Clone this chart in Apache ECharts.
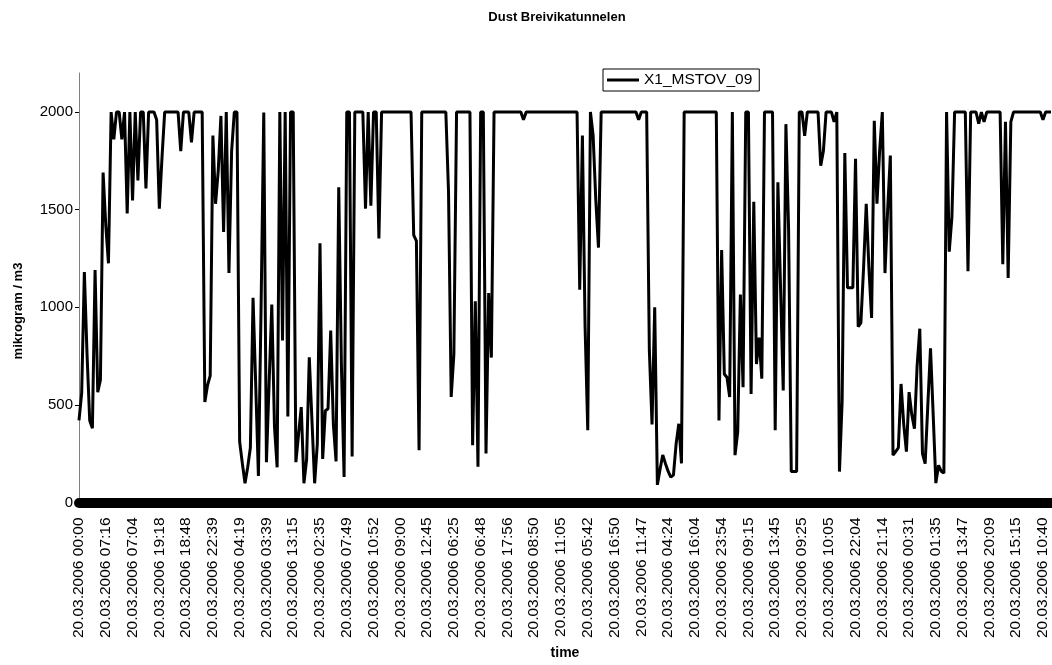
<!DOCTYPE html>
<html>
<head>
<meta charset="utf-8">
<title>Dust Breivikatunnelen</title>
<script src="https://cdn.jsdelivr.net/npm/echarts@6/dist/echarts.min.js"></script>
<style>
  html, body { margin: 0; padding: 0; background: #fff; }
  #chart { width: 1052px; height: 665px; }
</style>
</head>
<body>
<div id="chart"></div>
<script>
// tick labels on the time axis, one every 10 samples
var timeLabels = [
  '20.03.2006 00:00', '20.03.2006 07:16', '20.03.2006 07:04', '20.03.2006 19:18',
  '20.03.2006 18:48', '20.03.2006 22:39', '20.03.2006 04:19', '20.03.2006 03:39',
  '20.03.2006 13:15', '20.03.2006 02:35', '20.03.2006 07:49', '20.03.2006 10:52',
  '20.03.2006 09:00', '20.03.2006 12:45', '20.03.2006 06:25', '20.03.2006 06:48',
  '20.03.2006 17:56', '20.03.2006 08:50', '20.03.2006 11:05', '20.03.2006 05:42',
  '20.03.2006 16:50', '20.03.2006 11:47', '20.03.2006 04:24', '20.03.2006 16:04',
  '20.03.2006 23:54', '20.03.2006 09:15', '20.03.2006 13:45', '20.03.2006 09:25',
  '20.03.2006 10:05', '20.03.2006 22:04', '20.03.2006 21:14', '20.03.2006 00:31',
  '20.03.2006 01:35', '20.03.2006 13:47', '20.03.2006 20:09', '20.03.2006 15:15',
  '20.03.2006 10:40'
]
var labelStep = 10
var yTicks = [0, 500, 1000, 1500, 2000]

// X1_MSTOV_09, mikrogram / m3 (10 samples per label)
var dust = [
  420, 560, 1180, 760, 420, 380, 1190, 565, 627, 1690,
  1420, 1225, 2000, 1860, 2000, 2000, 1860, 2000, 1480, 2000,
  1547, 2000, 1650, 2000, 2000, 1608, 2000, 2000, 2000, 1960,
  1505, 1768, 2000, 2000, 2000, 2000, 2000, 2000, 1800, 2000,
  2000, 2000, 1845, 2000, 2000, 2000, 2000, 515, 600, 650,
  1880, 1530, 1700, 1980, 1385, 2000, 1175, 1800, 2000, 2000,
  310, 200, 98, 180, 280, 1048, 600, 135, 1000, 1997,
  206, 610, 1014, 390, 180, 2000, 830, 2000, 440, 2000,
  2000, 206, 350, 488, 98, 220, 744, 420, 98, 300,
  1328, 223, 470, 480, 880, 400, 210, 1615, 700, 130,
  2000, 2000, 235, 2000, 2000, 2000, 2000, 1505, 2000, 1520,
  2000, 2000, 1352, 2000, 2000, 2000, 2000, 2000, 2000, 2000,
  2000, 2000, 2000, 2000, 2000, 1370, 1340, 268, 2000, 2000,
  2000, 2000, 2000, 2000, 2000, 2000, 2000, 2000, 1590, 540,
  760, 2000, 2000, 2000, 2000, 2000, 2000, 293, 1030, 183,
  2000, 2000, 251, 1073, 742, 2000, 2000, 2000, 2000, 2000,
  2000, 2000, 2000, 2000, 2000, 2000, 1960, 2000, 2000, 2000,
  2000, 2000, 2000, 2000, 2000, 2000, 2000, 2000, 2000, 2000,
  2000, 2000, 2000, 2000, 2000, 2000, 2000, 1090, 1880, 900,
  370, 2000, 1880, 1550, 1305, 2000, 2000, 2000, 2000, 2000,
  2000, 2000, 2000, 2000, 2000, 2000, 2000, 2000, 2000, 1960,
  2000, 2000, 2000, 780, 400, 1000, 90, 170, 243, 200,
  160, 130, 140, 300, 403, 200, 2000, 2000, 2000, 2000,
  2000, 2000, 2000, 2000, 2000, 2000, 2000, 2000, 2000, 420,
  1293, 658, 640, 540, 2000, 242, 361, 1065, 590, 2000,
  2000, 556, 1540, 709, 844, 634, 2000, 2000, 2000, 2000,
  370, 1640, 1100, 573, 1938, 1400, 158, 158, 158, 2000,
  2000, 1878, 2000, 2000, 2000, 2000, 2000, 1725, 1800, 2000,
  2000, 2000, 1950, 2000, 158, 520, 1790, 1100, 1100, 1100,
  1760, 900, 920, 1200, 1530, 1200, 945, 1955, 1530, 1800,
  2000, 1175, 1500, 1777, 242, 260, 280, 607, 400, 260,
  565, 450, 378, 700, 890, 250, 199, 500, 790, 450,
  99, 190, 160, 150, 2000, 1285, 1463, 2000, 2000, 2000,
  2000, 2000, 1185, 2000, 2000, 2000, 1940, 2000, 1950, 2000,
  2000, 2000, 2000, 2000, 2000, 1220, 1950, 1150, 1950, 2000,
  2000, 2000, 2000, 2000, 2000, 2000, 2000, 2000, 2000, 2000,
  1960, 2000, 2000, 2000
]

var font = 'Liberation Sans, Arial, sans-serif'
var chart = echarts.init(document.getElementById('chart'))

var option = {
  animation: false,
  backgroundColor: '#fff',
  title: {
    text: 'Dust Breivikatunnelen',
    left: 552,
    textAlign: 'center',
    top: 6,
    textStyle: { fontFamily: font, fontSize: 13, fontWeight: 'bold', color: '#000' }
  },
  legend: {
    data: ['X1_MSTOV_09'],
    left: 603,
    top: 69,
    padding: [3, 7, 3, 4],
    borderColor: '#000',
    borderWidth: 1,
    itemWidth: 32,
    itemHeight: 3,
    icon: 'rect',
    textStyle: { fontFamily: font, fontSize: 15.5, color: '#000' }
  },
  graphic: [{
    type: 'text',
    x: 18,
    y: 311,
    rotation: Math.PI / 2,
    style: {
      text: 'mikrogram / m3',
      font: 'bold 13px ' + font,
      fill: '#000',
      align: 'center',
      verticalAlign: 'middle'
    }
  }],
  grid: { left: 79, right: 1, top: 73, bottom: 159 },
  xAxis: {
    type: 'value',
    min: 0,
    max: dust.length - 1,
    name: 'time',
    nameLocation: 'middle',
    nameGap: 142,
    nameTextStyle: { fontFamily: font, fontSize: 14, fontWeight: 'bold', color: '#000' },
    splitLine: { show: false },
    axisLine: { lineStyle: { color: '#000', width: 10 } },
    axisTick: { show: false },
    axisLabel: {
      customValues: timeLabels.map(function (l, i) { return i * labelStep }),
      rotate: 90,
      margin: 15,
      fontFamily: font,
      fontSize: 15.5,
      color: '#000',
      formatter: function (v) { return timeLabels[Math.round(v / labelStep)] }
    }
  },
  yAxis: {
    type: 'value',
    min: 0,
    max: 2200,
    splitLine: { show: false },
    axisLine: { show: true, lineStyle: { color: '#808080', width: 1 } },
    axisTick: { show: true, length: 4, customValues: yTicks, lineStyle: { color: '#000' } },
    axisLabel: {
      customValues: yTicks,
      margin: 6,
      fontFamily: font,
      fontSize: 15,
      color: '#000',
      formatter: function (v) { return String(v) }
    }
  },
  series: [{
    name: 'X1_MSTOV_09',
    type: 'line',
    showSymbol: false,
    symbol: 'none',
    color: '#000',
    lineStyle: { color: '#000', width: 3 },
    data: dust.map(function (v, i) { return [i, v] })
  }]
}

chart.setOption(option)
</script>
</body>
</html>
